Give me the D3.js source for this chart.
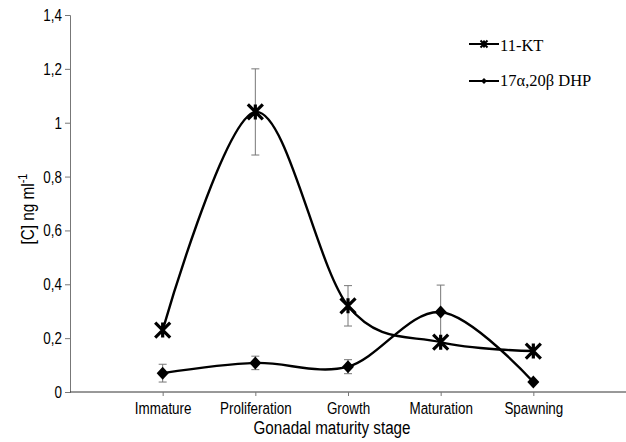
<!DOCTYPE html>
<html>
<head>
<meta charset="utf-8">
<script src="https://cdn.jsdelivr.net/npm/d3@7"></script>
<style>
  body { margin: 0; background: #fff; }
  .narrow { font-family: "Liberation Sans Narrow", "Arial Narrow", "Liberation Sans", sans-serif; }
</style>
</head>
<body>
<div id="chart"></div>
<script>
const STAGES = ["Immature", "Proliferation", "Growth", "Maturation", "Spawning"]
const KT_VALUES = [0.23, 1.04, 0.32, 0.185, 0.152]
const KT_ERR = [0, 0.16, 0.075, 0, 0]
const DHP_VALUES = [0.07, 0.108, 0.094, 0.297, 0.037]
const DHP_ERR = [0.033, 0.025, 0.026, 0.1, 0]
const Y_TICKS = [0, 0.2, 0.4, 0.6, 0.8, 1, 1.2, 1.4]

const width = 626, height = 442;
const marginLeft = 70, plotTop = 15, plotBottom = 392;
// the original text is a condensed face; squeeze Liberation Sans to match
const SQUEEZE = 0.79;

let svg = d3.select("#chart").append("svg")
    .attr("width", width).attr("height", height);

let x = d3.scalePoint().domain(STAGES).range([marginLeft, width]).padding(1);
let y = d3.scaleLinear().domain([0, 1.4]).range([plotBottom, plotTop]);

// y axis
let yAxis = svg.append("g")
    .attr("transform", "translate(" + marginLeft + ",0)")
    .call(d3.axisLeft(y).tickValues(Y_TICKS).tickSize(5).tickFormat(d => String(d).replace(".", ",")));
yAxis.select(".domain").attr("stroke", "#777");
yAxis.selectAll(".tick line").attr("stroke", "#777");
yAxis.selectAll("text").attr("class", "narrow").attr("font-size", 17).attr("fill", "#000")
    .attr("x", -8 / SQUEEZE).attr("transform", "scale(" + SQUEEZE + ",1)");

// x axis
let xAxis = svg.append("g")
    .attr("transform", "translate(0," + plotBottom + ")")
    .call(d3.axisBottom(x).tickSize(4).tickSizeOuter(0));
xAxis.select(".domain").attr("stroke", "#333").attr("d", "M" + marginLeft + ",0H" + width);
xAxis.selectAll(".tick line").attr("stroke", "#777");
xAxis.selectAll("text").attr("class", "narrow").attr("font-size", 17).attr("fill", "#000")
    .attr("dy", null).attr("y", 22).attr("transform", "scale(" + SQUEEZE + ",1)");

svg.append("text").attr("class", "narrow")
    .attr("transform", "translate(332,434) scale(0.8,1)").attr("text-anchor", "middle")
    .attr("font-size", 19).text("Gonadal maturity stage");

let yl = svg.append("text").attr("class", "narrow")
    .attr("transform", "translate(34,209) rotate(-90) scale(0.85,1)")
    .attr("text-anchor", "middle").attr("font-size", 18);
yl.append("tspan").text("[C] ng ml");
yl.append("tspan").attr("dy", -7).attr("font-size", 13).text("-1");

// error bars
function errBars(vals, errs) {
    let g = svg.append("g").attr("stroke", "#777").attr("stroke-width", 1);
    vals.forEach((v, i) => {
        if (!errs[i]) return;
        let cx = x(STAGES[i]);
        let y1 = y(v + errs[i]), y2 = y(v - errs[i]);
        g.append("line").attr("x1", cx).attr("x2", cx).attr("y1", y1).attr("y2", y2);
        g.append("line").attr("x1", cx - 4).attr("x2", cx + 4).attr("y1", y1).attr("y2", y1);
        g.append("line").attr("x1", cx - 4).attr("x2", cx + 4).attr("y1", y2).attr("y2", y2);
    });
}
errBars(KT_VALUES, KT_ERR);
errBars(DHP_VALUES, DHP_ERR);

let line = d3.line().x((d, i) => x(STAGES[i])).y(d => y(d)).curve(d3.curveCardinal.tension(0));

svg.append("path").datum(KT_VALUES).attr("d", line)
    .attr("fill", "none").attr("stroke", "#000").attr("stroke-width", 2.4);
svg.append("path").datum(DHP_VALUES).attr("d", line)
    .attr("fill", "none").attr("stroke", "#000").attr("stroke-width", 2.4);

function star(g, cx, cy, r, w) {
    g.append("path")
        .attr("d", `M${cx - r},${cy - r}L${cx + r},${cy + r}M${cx - r},${cy + r}L${cx + r},${cy - r}M${cx},${cy - r}V${cy + r}`)
        .attr("stroke", "#000").attr("stroke-width", w).attr("fill", "none");
}
function diamond(g, cx, cy, rx, ry) {
    g.append("path")
        .attr("d", `M${cx},${cy - ry}L${cx + rx},${cy}L${cx},${cy + ry}L${cx - rx},${cy}Z`)
        .attr("fill", "#000");
}

let marks = svg.append("g");
KT_VALUES.forEach((v, i) => star(marks, x(STAGES[i]), y(v), 7.5, 3.2));
DHP_VALUES.forEach((v, i) => diamond(marks, x(STAGES[i]), y(v), 6, 6.5));

// legend
const SERIF = "Liberation Serif, Times New Roman, serif";
let lg = svg.append("g");
lg.append("line").attr("x1", 469).attr("x2", 499).attr("y1", 44).attr("y2", 44).attr("stroke", "#000").attr("stroke-width", 2);
star(lg, 484, 44, 3.5, 2);
lg.append("text").attr("x", 500).attr("y", 51).attr("font-family", SERIF)
    .attr("font-size", 16.5).text("11-KT");
lg.append("line").attr("x1", 469).attr("x2", 499).attr("y1", 81).attr("y2", 81).attr("stroke", "#000").attr("stroke-width", 2);
diamond(lg, 484, 81, 3, 3);
lg.append("text").attr("x", 500).attr("y", 86).attr("font-family", SERIF)
    .attr("font-size", 16.5).text("17α,20β DHP");
</script>
</body>
</html>
